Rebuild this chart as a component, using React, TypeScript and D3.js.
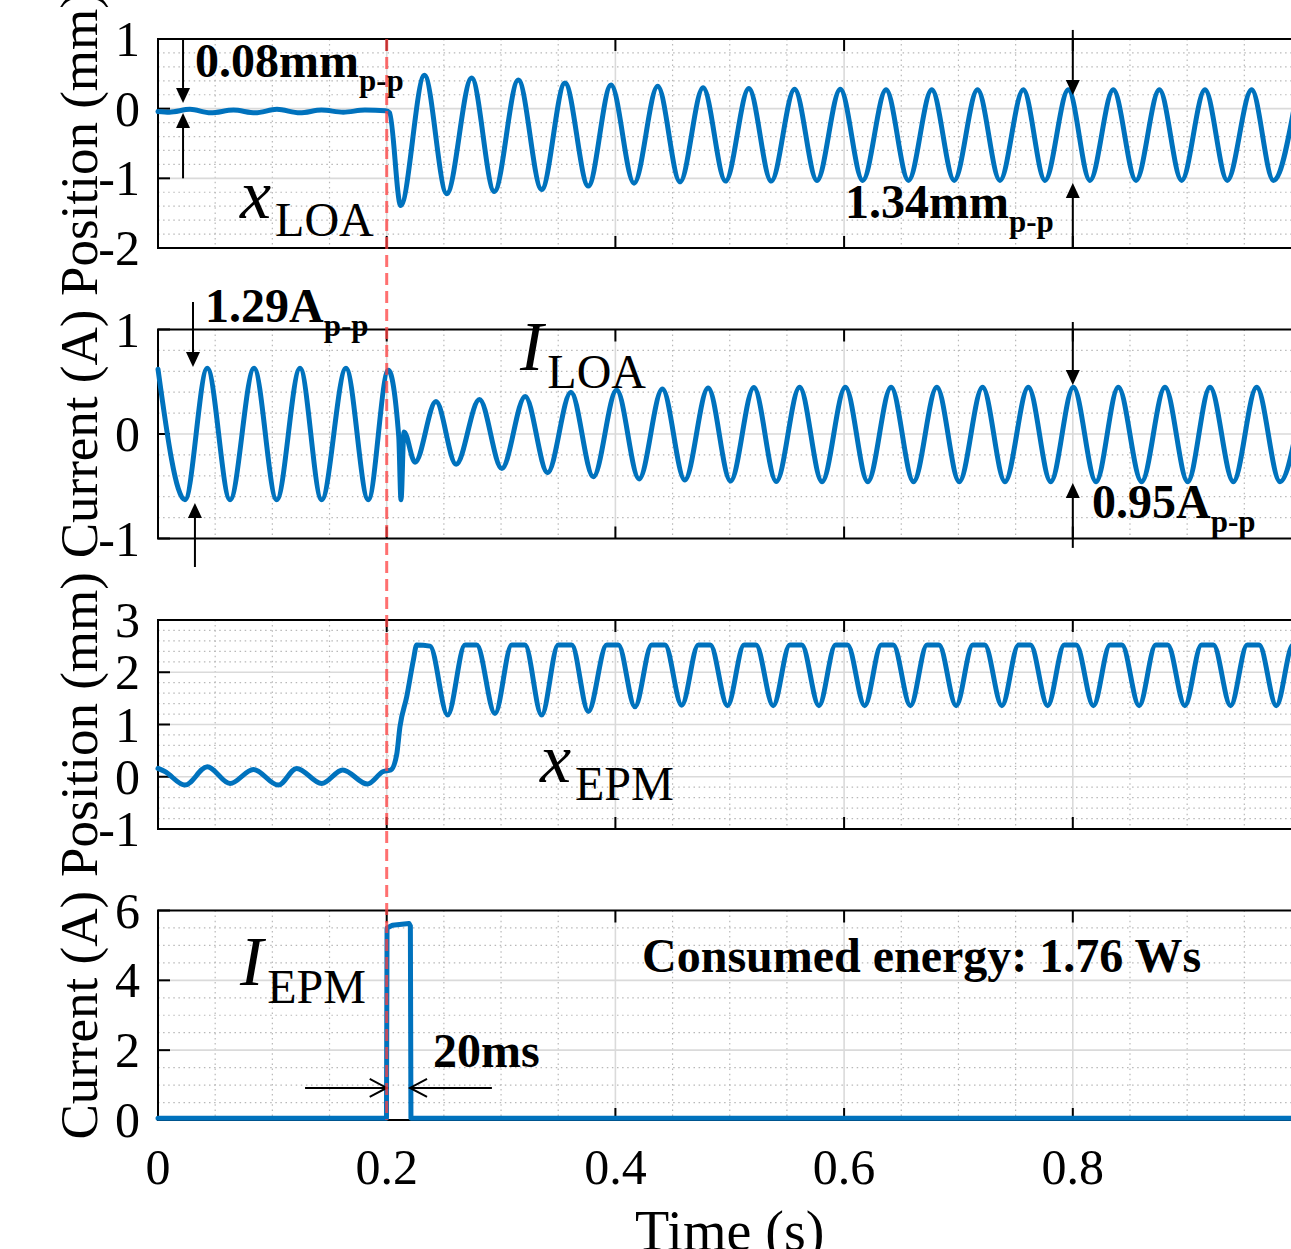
import React from 'react';
import * as d3 from 'd3';

const W = 1291;
const H = 1249;
const FONT = '"Liberation Serif", "Times New Roman", Times, serif';
const BLUE = '#0072BD';

// ---------- time axis ----------
const timeDomain: [number, number] = [0, 1];
const xTicks = [0, 0.2, 0.4, 0.6, 0.8, 1.0];
const xTickLabels = ['0', '0.2', '0.4', '0.6', '0.8', ''];
const xMinorStep = 0.05;
const eventTime = 0.2;

// ---------- series (time s, value): extrema of each waveform ----------
const xLoa: [number, number][] = [
  [0, -0.04], [0.010, -0.05], [0.028, -0.01], [0.046, -0.06], [0.066, -0.02], [0.085, -0.06],
  [0.104, -0.01], [0.124, -0.06], [0.143, -0.02], [0.162, -0.05], [0.181, -0.02], [0.199, -0.03],
  [0.2025, -0.06], [0.2122, -1.39], [0.2330, 0.48], [0.2525, -1.22], [0.2743, 0.44], [0.2941, -1.19],
  [0.3151, 0.41], [0.3355, -1.16], [0.3559, 0.37], [0.3763, -1.11], [0.3962, 0.34], [0.4163, -1.07],
  [0.4370, 0.32], [0.4565, -1.05], [0.4767, 0.30], [0.4963, -1.04], [0.5167, 0.29], [0.5363, -1.04],
  [0.5567, 0.28], [0.5763, -1.03], [0.5967, 0.28], [0.6163, -1.03], [0.6367, 0.27], [0.6563, -1.03],
  [0.6767, 0.27], [0.6963, -1.03], [0.7167, 0.27], [0.7363, -1.03], [0.7567, 0.27], [0.7757, -1.03],
  [0.7961, 0.27], [0.8150, -1.03], [0.8354, 0.27], [0.8553, -1.03], [0.8757, 0.27], [0.8952, -1.03],
  [0.9156, 0.27], [0.9351, -1.03], [0.9564, 0.27], [0.9754, -1.03], [0.9964, 0.27],
];

const iLoa: [number, number][] = [
  [0, 0.62], [0.0236, -0.63], [0.0431, 0.63], [0.0630, -0.63], [0.0840, 0.63], [0.1038, -0.63],
  [0.1242, 0.63], [0.1431, -0.63], [0.1644, 0.63], [0.1839, -0.63], [0.2014, 0.61], [0.2105, -0.02],
  [0.2125, -0.63], [0.2151, 0.02], [0.2248, -0.27], [0.2431, 0.31], [0.2607, -0.29], [0.2811, 0.33],
  [0.3007, -0.33], [0.3211, 0.36], [0.3407, -0.37], [0.3611, 0.40], [0.3807, -0.41], [0.4011, 0.42],
  [0.4207, -0.43], [0.4411, 0.43], [0.4607, -0.44], [0.4811, 0.44], [0.5007, -0.45], [0.5211, 0.445],
  [0.5407, -0.455], [0.5611, 0.447], [0.5807, -0.456], [0.6011, 0.447], [0.6207, -0.456], [0.6411, 0.447],
  [0.6607, -0.456], [0.6811, 0.447], [0.7007, -0.456], [0.7211, 0.447], [0.7407, -0.456], [0.7611, 0.447],
  [0.7807, -0.456], [0.8005, 0.447], [0.8203, -0.456], [0.8398, 0.447], [0.8602, -0.456], [0.8806, 0.447],
  [0.9005, -0.456], [0.9200, 0.447], [0.9404, -0.456], [0.9608, 0.447], [0.9812, -0.456], [1.0, 0.30],
];

const xEpm: [number, number][] = [
  [0, 0.16], [0.006, 0.10], [0.0236, -0.16], [0.0431, 0.19], [0.0630, -0.13], [0.0834, 0.14],
  [0.1052, -0.16], [0.1213, 0.16], [0.1431, -0.13], [0.1615, 0.13], [0.1831, -0.14], [0.1970, 0.10],
  [0.2036, 0.13], [0.2087, 0.42], [0.2116, 0.96], [0.2175, 1.53], [0.2233, 2.23], [0.2262, 2.52],
  [0.2379, 2.50], [0.2533, 1.18], [0.2685, 2.52], [0.2787, 2.52], [0.2947, 1.21], [0.3093, 2.52],
  [0.3209, 2.52], [0.3355, 1.18], [0.3500, 2.52], [0.3618, 2.52], [0.3763, 1.25], [0.3924, 2.52],
  [0.4026, 2.52], [0.4171, 1.34], [0.4317, 2.52], [0.4434, 2.52], [0.4580, 1.37], [0.4725, 2.52],
  [0.4830, 2.52], [0.4980, 1.36], [0.5125, 2.52], [0.5230, 2.52], [0.5380, 1.36], [0.5525, 2.52],
  [0.5630, 2.52], [0.5780, 1.36], [0.5925, 2.52], [0.6030, 2.52], [0.6180, 1.36], [0.6325, 2.52],
  [0.6430, 2.52], [0.6580, 1.36], [0.6725, 2.52], [0.6830, 2.52], [0.6980, 1.36], [0.7125, 2.52],
  [0.7230, 2.52], [0.7380, 1.36], [0.7525, 2.52], [0.7630, 2.52], [0.7780, 1.36], [0.7925, 2.52],
  [0.8030, 2.52], [0.8180, 1.36], [0.8325, 2.52], [0.8430, 2.52], [0.8580, 1.36], [0.8725, 2.52],
  [0.8830, 2.52], [0.8980, 1.36], [0.9125, 2.52], [0.9230, 2.52], [0.9380, 1.36], [0.9525, 2.52],
  [0.9630, 2.52], [0.9780, 1.36], [0.9925, 2.52], [1.0030, 2.52],
];

const iEpm: [number, number][] = [
  [0, 0.05], [0.1998, 0.05], [0.2003, 5.50], [0.2050, 5.58], [0.2195, 5.63], [0.2207, 5.56],
  [0.2212, 0.05], [1.0, 0.05],
];

// ---------- y axes ----------
const p1Ticks = [-2, -1, 0, 1];
const p2Ticks = [-1, 0, 1];
const p3Ticks = [-1, 0, 1, 2, 3];
const p4Ticks = [0, 2, 4, 6];

// ---------- annotations (data coordinates) ----------
type VArrow = { t: number; from: number; to: number };
type Note = { t: number; v: number; main: string; sub?: string };
type Sym = { t: number; v: number; main: string; sub: string };

const p1Arrows: VArrow[] = [
  { t: 0.0219, from: 1.0, to: 0.082 }, { t: 0.0219, from: -1.0, to: -0.062 },
  { t: 0.8, from: 1.13, to: 0.197 }, { t: 0.8, from: -2.0, to: -1.066 },
];
const p2Arrows: VArrow[] = [
  { t: 0.0306, from: 1.263, to: 0.641 }, { t: 0.0323, from: -1.273, to: -0.66 },
  { t: 0.8, from: 1.072, to: 0.469 }, { t: 0.8, from: -1.09, to: -0.469 },
];
const p1Notes: Note[] = [
  { t: 0.0324, v: 0.455, main: '0.08mm', sub: 'p-p' },
  { t: 0.6008, v: -1.568, main: '1.34mm', sub: 'p-p' },
];
const p2Notes: Note[] = [
  { t: 0.0411, v: 1.072, main: '1.29A', sub: 'p-p' },
  { t: 0.8168, v: -0.804, main: '0.95A', sub: 'p-p' },
];
const p4Notes: Note[] = [
  { t: 0.2405, v: 1.519, main: '20ms' },
  { t: 0.4233, v: 4.241, main: 'Consumed energy: 1.76 Ws' },
];
const p1Syms: Sym[] = [{ t: 0.0717, v: -1.568, main: 'x', sub: 'LOA' }];
const p2Syms: Sym[] = [{ t: 0.3166, v: 0.612, main: 'I', sub: 'LOA' }];
const p3Syms: Sym[] = [{ t: 0.334, v: -0.1, main: 'x', sub: 'EPM' }];
const p4Syms: Sym[] = [{ t: 0.0717, v: 3.868, main: 'I', sub: 'EPM' }];
const p4HArrows = [
  { v: 0.917, from: 0.1286, to: 0.2 },
  { v: 0.917, from: 0.292, to: 0.2204 },
];

type PanelSpec = {
  top: number; bottom: number; domain: [number, number]; ticks: number[]; minor: number;
  label: string; data: [number, number][]; curve: d3.CurveFactory;
  arrows: VArrow[]; notes: Note[]; syms: Sym[];
};

const panels: PanelSpec[] = [
  { top: 39, bottom: 248, domain: [-2, 1], ticks: p1Ticks, minor: 0.2, label: 'Position (mm)', data: xLoa, curve: d3.curveMonotoneX, arrows: p1Arrows, notes: p1Notes, syms: p1Syms },
  { top: 329.5, bottom: 538.5, domain: [-1, 1], ticks: p2Ticks, minor: 0.2, label: 'Current (A)', data: iLoa, curve: d3.curveMonotoneX, arrows: p2Arrows, notes: p2Notes, syms: p2Syms },
  { top: 620, bottom: 829, domain: [-1, 3], ticks: p3Ticks, minor: 0.2, label: 'Position (mm)', data: xEpm, curve: d3.curveMonotoneX, arrows: [], notes: [], syms: p3Syms },
  { top: 910.5, bottom: 1120, domain: [0, 6], ticks: p4Ticks, minor: 0.5, label: 'Current (A)', data: iEpm, curve: d3.curveLinear, arrows: [], notes: p4Notes, syms: p4Syms },
];

const x = d3.scaleLinear().domain(timeDomain).range([158, 1301.5]);

const xMinor = d3.range(0, Math.round(1 / xMinorStep) + 1)
  .map((k) => k * xMinorStep)
  .filter((t) => Math.abs(t / 0.2 - Math.round(t / 0.2)) > 1e-6);

function Panel({ spec }: { spec: PanelSpec }) {
  const y = d3.scaleLinear().domain(spec.domain).range([spec.bottom, spec.top]);
  const [x0, x1] = x.range();
  const kMin = Math.ceil(spec.domain[0] / spec.minor - 1e-6);
  const kMax = Math.floor(spec.domain[1] / spec.minor + 1e-6);
  const minorY = d3.range(kMin, kMax + 1).map((k) => k * spec.minor)
    .filter((v) => !spec.ticks.some((t) => Math.abs(t - v) < 1e-6));
  const majorY = spec.ticks.filter((v) => v > spec.domain[0] && v < spec.domain[1]);
  const line = d3.line<[number, number]>().x((d) => x(d[0])).y((d) => y(d[1])).curve(spec.curve);
  const midY = (spec.top + spec.bottom) / 2;
  return (
    <g>
      <g stroke="#b8b8b8" strokeWidth={1.2} strokeDasharray="1.5,3.6">
        {xMinor.map((t) => <line key={'mx' + t} x1={x(t)} x2={x(t)} y1={spec.top} y2={spec.bottom} />)}
        {minorY.map((v) => <line key={'my' + v} x1={x0} x2={x1} y1={y(v)} y2={y(v)} />)}
      </g>
      <g stroke="#dadada" strokeWidth={1.6}>
        {xTicks.filter((t) => t > 0).map((t) => <line key={'gx' + t} x1={x(t)} x2={x(t)} y1={spec.top} y2={spec.bottom} />)}
        {majorY.map((v) => <line key={'gy' + v} x1={x0} x2={x1} y1={y(v)} y2={y(v)} />)}
      </g>
      <rect x={x0} y={spec.top} width={x1 - x0} height={spec.bottom - spec.top} fill="none" stroke="#000" strokeWidth={2} />
      <g stroke="#000" strokeWidth={2}>
        {xTicks.map((t) => (
          <g key={'tx' + t}>
            <line x1={x(t)} x2={x(t)} y1={spec.top} y2={spec.top + 12} />
            <line x1={x(t)} x2={x(t)} y1={spec.bottom} y2={spec.bottom - 12} />
          </g>
        ))}
        {spec.ticks.map((v) => <line key={'ty' + v} x1={x0} x2={x0 + 12} y1={y(v)} y2={y(v)} />)}
      </g>
      <g fontFamily={FONT} fontSize={50} fill="#000" textAnchor="end">
        {spec.ticks.map((v) => (
          <text key={'l' + v} x={140} y={y(v)} dy="0.34em">{v < 0 ? '-' + Math.abs(v) : String(v)}</text>
        ))}
      </g>
      <text transform={`translate(97,${midY}) rotate(-90)`} textAnchor="middle" fontFamily={FONT} fontSize={53} fill="#000">
        {spec.label}
      </text>
      <path d={line(spec.data) || ''} fill="none" stroke={BLUE} strokeWidth={5} strokeLinejoin="round" strokeLinecap="round" />
      {spec.arrows.map((a, i) => {
        const yt = y(a.to);
        const yf = y(a.from);
        const dir = yt > yf ? 1 : -1;
        const base = yt - dir * 15;
        const xa = x(a.t);
        return (
          <g key={'a' + i}>
            <line x1={xa} x2={xa} y1={yf} y2={base} stroke="#000" strokeWidth={2} />
            <polygon points={`${xa},${yt} ${xa - 7},${base} ${xa + 7},${base}`} fill="#000" />
          </g>
        );
      })}
      {spec.notes.map((n, i) => (
        <text key={'n' + i} x={x(n.t)} y={y(n.v)} fontFamily={FONT} fontWeight="bold" fontSize={48} fill="#000">
          {n.main}
          {n.sub ? <tspan fontSize={31} dy={14}>{n.sub}</tspan> : null}
        </text>
      ))}
      {spec.syms.map((s, i) => (
        <text key={'s' + i} x={x(s.t)} y={y(s.v)} fontFamily={FONT} fontSize={70} fill="#000">
          <tspan fontStyle="italic">{s.main}</tspan>
          <tspan fontSize={48} dx={4} dy={18}>{s.sub}</tspan>
        </text>
      ))}
    </g>
  );
}

export default function App() {
  const p4 = panels[3];
  const y4 = d3.scaleLinear().domain(p4.domain).range([p4.bottom, p4.top]);
  return (
    <svg width={W} height={H} viewBox={`0 0 ${W} ${H}`}
      style={{ position: 'fixed', left: 0, top: 0, background: '#fff', display: 'block' }}>
      <rect x={0} y={0} width={W} height={H} fill="#fff" />
      {panels.map((p, i) => <Panel key={i} spec={p} />)}
      {p4HArrows.map((a, i) => {
        const ya = y4(a.v);
        const xf = x(a.from);
        const xt = x(a.to);
        const dir = xt > xf ? 1 : -1;
        return (
          <g key={'h' + i} stroke="#000" strokeWidth={2} fill="none">
            <line x1={xf} x2={xt} y1={ya} y2={ya} />
            <polyline points={`${xt - dir * 17},${ya - 9} ${xt},${ya} ${xt - dir * 17},${ya + 9}`} />
          </g>
        );
      })}
      <g fontFamily={FONT} fontSize={50} fill="#000" textAnchor="middle">
        {xTicks.map((t, i) => xTickLabels[i] ? <text key={'xl' + t} x={x(t)} y={p4.bottom + 64}>{xTickLabels[i]}</text> : null)}
      </g>
      <text x={(x.range()[0] + x.range()[1]) / 2} y={1250} textAnchor="middle" fontFamily={FONT} fontSize={56} fill="#000">Time (s)</text>
      <line x1={x(eventTime)} x2={x(eventTime)} y1={panels[0].top} y2={p4.bottom}
        stroke="#ff4040" strokeOpacity={0.75} strokeWidth={3} strokeDasharray="12,6" />
    </svg>
  );
}
